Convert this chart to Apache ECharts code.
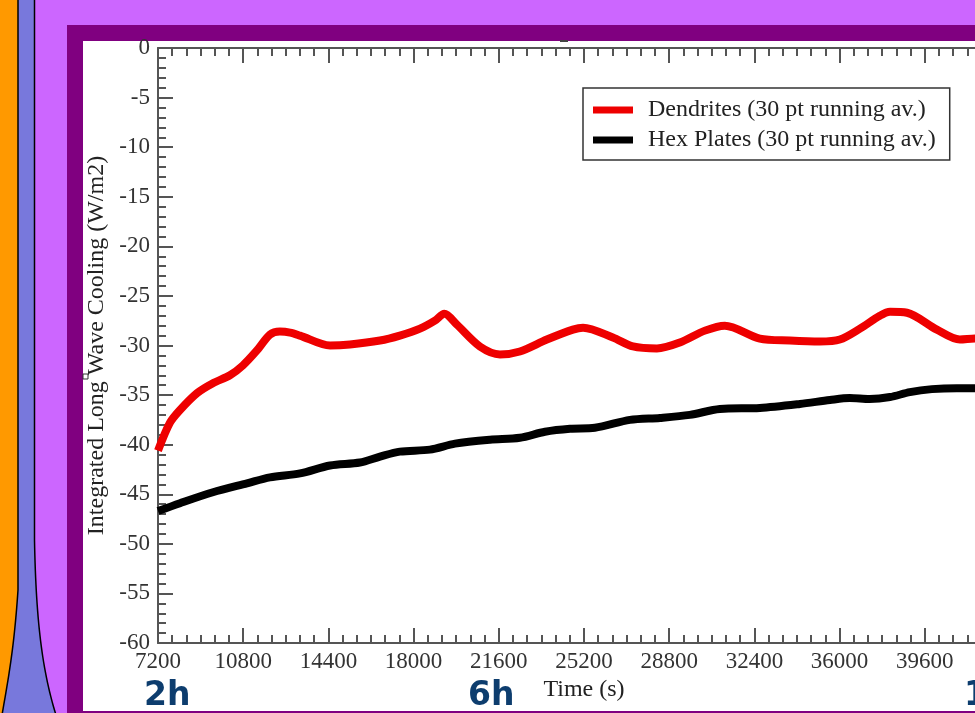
<!DOCTYPE html>
<html>
<head>
<meta charset="utf-8">
<script src="https://cdn.jsdelivr.net/npm/echarts@6/dist/echarts.min.js"></script>
<style>
html,body{margin:0;padding:0;overflow:hidden;width:975px;height:713px;background:#cc66ff;}
#c{width:1100px;height:713px;}
</style>
</head>
<body>
<div id="c"></div>
<script>
// ---- data ----
const seriesNames = ['Dendrites (30 pt running av.)', 'Hex Plates (30 pt running av.)'];
const xTicks = [7200, 10800, 14400, 18000, 21600, 25200, 28800, 32400, 36000, 39600, 43200];
const yTicks = [0, -5, -10, -15, -20, -25, -30, -35, -40, -45, -50, -55, -60];
const timeLabels = ['2h', '6h', '12h'];

const dendritesT = [7200, 7700, 8130, 8850, 9520, 10240, 10790, 11380, 11930, 12350, 12780, 13200, 14470, 15310, 16580, 17420, 18270, 18900, 19300, 19830, 20800, 21650, 22490, 23630, 24730, 25160, 26420, 27270, 28280, 29250, 30310, 31150, 32630, 33900, 35170, 36010, 36860, 37700, 38130, 38850, 40110, 41080, 41720, 42500, 43200];
const dendritesV = [-40.6, -37.8, -36.5, -34.8, -33.8, -33.0, -32.0, -30.5, -28.9, -28.6, -28.7, -29.0, -30.0, -29.9, -29.5, -29.0, -28.3, -27.5, -26.8, -27.9, -30.1, -30.9, -30.6, -29.4, -28.4, -28.2, -29.2, -30.1, -30.3, -29.7, -28.5, -28.0, -29.3, -29.5, -29.6, -29.4, -28.3, -27.0, -26.6, -26.7, -28.4, -29.4, -29.3, -29.3, -29.3];

const hexT = [7200, 8130, 9520, 10960, 11930, 13200, 14470, 15730, 16580, 17420, 18690, 19750, 21230, 22490, 23550, 24610, 25660, 27140, 28410, 29670, 30940, 32630, 34320, 35590, 36430, 37270, 38130, 38970, 39900, 40950, 41720, 42500, 43200];
const hexV = [-46.7, -45.9, -44.8, -43.9, -43.3, -42.9, -42.1, -41.8, -41.2, -40.7, -40.5, -39.9, -39.5, -39.3, -38.7, -38.4, -38.3, -37.5, -37.3, -37.0, -36.4, -36.3, -35.9, -35.5, -35.3, -35.4, -35.2, -34.7, -34.4, -34.3, -34.3, -34.3, -34.3];

function pairs(t, v) { return t.map((x, i) => [x, v[i]]); }

// decorative slide shape (not data): sampled cubic curves
function cubic(p0, p1, p2, p3, n) {
  const out = [];
  for (let i = 0; i <= n; i++) {
    const t = i / n, u = 1 - t;
    out.push([
      u*u*u*p0[0] + 3*u*u*t*p1[0] + 3*u*t*t*p2[0] + t*t*t*p3[0],
      u*u*u*p0[1] + 3*u*u*t*p1[1] + 3*u*t*t*p2[1] + t*t*t*p3[1]
    ]);
  }
  return out;
}
const bluePts = [[18, -2], [34.5, -2]]
  .concat(cubic([34.5, 540], [36, 620], [42, 670], [56, 715], 30))
  .concat(cubic([2, 715], [8, 680], [14, 650], [18, 590], 30));

const serif = '"Liberation Serif", "DejaVu Serif", serif';
const axisCol = '#555';

const chart = echarts.init(document.getElementById('c'), null, {renderer: 'canvas'});

const baseX = {
  type: 'value', min: 7200, max: 43200, interval: 3600,
  axisLine: {show: true, onZero: false, lineStyle: {color: axisCol, width: 2}},
  axisTick: {show: true, inside: true, length: 15, lineStyle: {color: axisCol, width: 2}},
  minorTick: {show: true, splitNumber: 6, length: 8, lineStyle: {color: axisCol, width: 2}},
  splitLine: {show: false}
};
const baseY = {
  type: 'value', min: -60, max: 0, interval: 5,
  axisLine: {show: true, onZero: false, lineStyle: {color: axisCol, width: 2}},
  axisTick: {show: true, inside: true, length: 15, lineStyle: {color: axisCol, width: 2}},
  minorTick: {show: true, splitNumber: 5, length: 8, lineStyle: {color: axisCol, width: 2}},
  splitLine: {show: false}
};

const blue = '#0d3d6e';
const option = {
  animation: false,
  backgroundColor: 'transparent',
  graphic: [
    {type: 'rect', z: -10, shape: {x: 0, y: 0, width: 18, height: 713}, style: {fill: '#ff9900'}},
    {type: 'polygon', z: -9, shape: {points: bluePts}, style: {fill: '#7878dc', stroke: '#000', lineWidth: 1.5}},
    {type: 'rect', z: -8, shape: {x: 67, y: 25, width: 1100, height: 700}, style: {fill: '#800080'}},
    {type: 'rect', z: -7, shape: {x: 83, y: 41, width: 1100, height: 670}, style: {fill: '#ffffff'}},
    {type: 'rect', z: -6, shape: {x: 560, y: 40, width: 8, height: 2}, style: {fill: '#444'}},
    {type: 'rect', z: 5, shape: {x: 83, y: 374, width: 5, height: 5}, style: {fill: '#fff', stroke: '#333', lineWidth: 1}},
    {type: 'text', z: 10, x: 144, y: 680, style: {text: timeLabels[0], font: 'bold 33px "DejaVu Sans", sans-serif', fill: blue}},
    {type: 'text', z: 10, x: 468, y: 680, style: {text: timeLabels[1], font: 'bold 33px "DejaVu Sans", sans-serif', fill: blue}},
    {type: 'text', z: 10, x: 964, y: 680, style: {text: timeLabels[2], font: 'bold 33px "DejaVu Sans", sans-serif', fill: blue}}
  ],
  grid: {left: 158, top: 48, width: 852, height: 595, containLabel: false},
  legend: {
    orient: 'vertical', left: 583, top: 88,
    backgroundColor: '#fff', borderColor: '#333', borderWidth: 1.5,
    padding: [10, 14, 8, 10], itemGap: 6,
    itemWidth: 40, itemHeight: 7, icon: 'rect',
    textStyle: {fontFamily: serif, fontSize: 24, color: '#222', padding: [0, 0, 0, 10]},
    data: seriesNames
  },
  xAxis: [
    Object.assign({}, baseX, {
      position: 'bottom',
      name: 'Time (s)', nameLocation: 'middle', nameGap: 35,
      nameTextStyle: {fontFamily: serif, fontSize: 24, color: '#222'},
      axisLabel: {show: true, margin: 7, fontFamily: serif, fontSize: 23, color: '#333', formatter: v => String(v)}
    }),
    Object.assign({}, baseX, {position: 'top', axisLabel: {show: false}})
  ],
  yAxis: [
    Object.assign({}, baseY, {
      position: 'left',
      name: 'Integrated Long Wave Cooling (W/m2)', nameLocation: 'middle', nameGap: 49,
      nameTextStyle: {fontFamily: serif, fontSize: 24, color: '#222'},
      axisLabel: {show: true, margin: 8, fontFamily: serif, fontSize: 23, color: '#333'}
    }),
    Object.assign({}, baseY, {position: 'right', axisLabel: {show: false}})
  ],
  series: [
    {name: seriesNames[0], type: 'line', data: pairs(dendritesT, dendritesV), smooth: 0.3,
      showSymbol: false, color: '#ee0000', lineStyle: {width: 8, color: '#ee0000'}, z: 3},
    {name: seriesNames[1], type: 'line', data: pairs(hexT, hexV), smooth: 0.3,
      showSymbol: false, color: '#000000', lineStyle: {width: 8, color: '#000'}, z: 3}
  ]
};
chart.setOption(option);
</script>
</body>
</html>
